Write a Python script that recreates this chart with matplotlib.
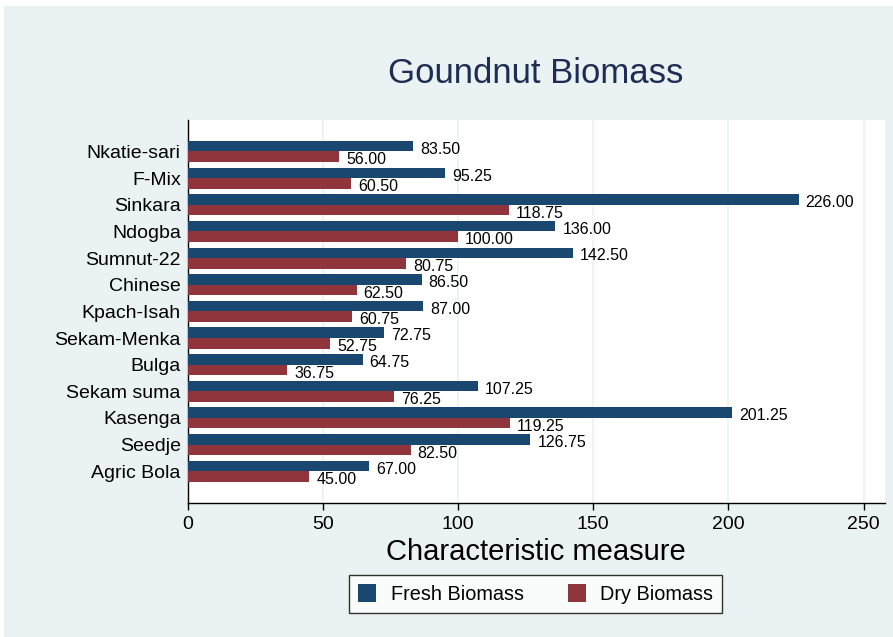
import matplotlib
matplotlib.use("Agg")
import matplotlib.pyplot as plt
import matplotlib.patches as patches
import numpy as np

plt.rcParams['font.family'] = ['Liberation Sans', 'DejaVu Sans']

# data, listed top to bottom as in the chart
varieties = ["Nkatie-sari", "F-Mix", "Sinkara", "Ndogba", "Sumnut-22", "Chinese",
             "Kpach-Isah", "Sekam-Menka", "Bulga", "Sekam suma", "Kasenga",
             "Seedje", "Agric Bola"]
fresh = [83.50, 95.25, 226.00, 136.00, 142.50, 86.50, 87.00, 72.75, 64.75,
         107.25, 201.25, 126.75, 67.00]
dry = [56.00, 60.50, 118.75, 100.00, 80.75, 62.50, 60.75, 52.75, 36.75,
       76.25, 119.25, 82.50, 45.00]
x_ticks = [0, 50, 100, 150, 200, 250]

FRESH_C = "#1A476F"
DRY_C = "#90353B"
BG = "#EAF2F3"

fig = plt.figure(figsize=(8.93, 6.37), dpi=100, facecolor="white")
# light blue panel behind everything (thin white margin top/left)
fig.patches.append(patches.Rectangle((4 / 893, 0), 1, 1 - 6 / 637,
                                     transform=fig.transFigure,
                                     facecolor=BG, edgecolor="none", zorder=-10))

ax = fig.add_axes([0.2102, 0.2108, 0.7805, 0.6008])
ax.set_facecolor("white")

n = len(varieties)
pos = np.arange(n)[::-1]  # first variety at the top
h = 0.395

b1 = ax.barh(pos + h / 2, fresh, height=h, color=FRESH_C, label="Fresh Biomass", zorder=3)
b2 = ax.barh(pos - h / 2, dry, height=h, color=DRY_C, label="Dry Biomass", zorder=3)

for bars, vals in ((b1, fresh), (b2, dry)):
    for bar, v in zip(bars, vals):
        ax.annotate(f"{v:.2f}", (bar.get_width(), bar.get_y() + bar.get_height() / 2),
                    xytext=(5, -2.3), textcoords="offset points",
                    ha="left", va="center", fontsize=11.5, color="black", zorder=4)

ax.set_xlim(0, 257.8)
ax.set_ylim(-1.18, n - 1 + 1.18)
ax.set_xticks(x_ticks)
ax.set_xticklabels([str(t) for t in x_ticks], fontsize=14)
ax.set_yticks(pos)
ax.set_yticklabels(varieties, fontsize=14)
ax.tick_params(axis="y", length=0, pad=5)
ax.tick_params(axis="x", length=5, width=1, pad=4.5, direction="out")
ax.grid(axis="x", color=BG, lw=1.2, zorder=0)

for s in ("top", "right"):
    ax.spines[s].set_visible(False)
ax.spines["left"].set_linewidth(1)
ax.spines["bottom"].set_linewidth(1)

ax.set_xlabel("Characteristic measure", fontsize=21, labelpad=3.5)

fig.text(0.6, 0.8845, "Goundnut Biomass", ha="center", va="center",
         fontsize=25, color="#1E2D52")

leg = fig.legend(handles=[b1, b2], loc="center", bbox_to_anchor=(0.6, 0.0675),
                 ncol=2, fontsize=14.3, frameon=True, fancybox=False,
                 handlelength=0.9, handleheight=1.05, handletextpad=0.75,
                 columnspacing=2.2, borderpad=0.45, borderaxespad=0)
leg.get_frame().set_edgecolor("black")
leg.get_frame().set_linewidth(1)
leg.get_frame().set_facecolor("white")

fig.savefig("out.png", dpi=100, facecolor=fig.get_facecolor())
